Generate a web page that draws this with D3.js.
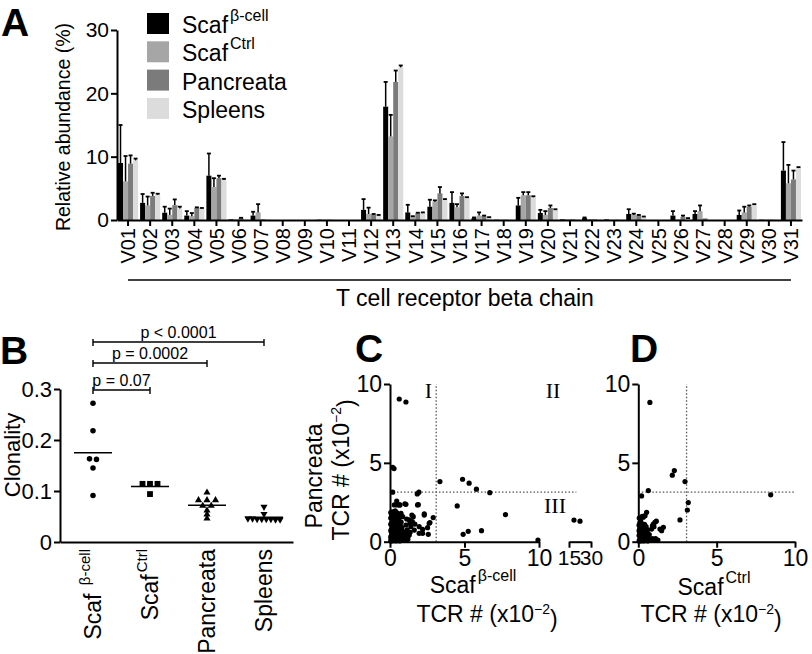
<!DOCTYPE html>
<html>
<head>
<meta charset="utf-8">
<script src="https://cdn.jsdelivr.net/npm/d3@7"></script>
<style>
body { margin: 0; background: #fff; }
svg { font-family: "Liberation Sans", Arial, sans-serif; }
.axis path, .axis line { stroke: #000; stroke-width: 2; }
.axis text { fill: #000; }
.dotted { stroke: #555; stroke-width: 1.3; stroke-dasharray: 1.5,2; fill: none; }
</style>
</head>
<body>
<svg id="fig" width="812" height="654"></svg>
<script>
// ---- panel A data: relative abundance (%) per TCR beta V gene
const vGenes = ["V01","V02","V03","V04","V05","V06","V07","V08","V09","V10",
  "V11","V12","V13","V14","V15","V16","V17","V18","V19","V20",
  "V21","V22","V23","V24","V25","V26","V27","V28","V29","V30","V31"];
const seriesNames = ["scafBeta", "scafCtrl", "pancreata", "spleens"];
const seriesColors = ["#000000", "#a6a6a6", "#7b7b7b", "#dcdcdc"];
const legendLabels = [["Scaf", "β-cell"], ["Scaf", "Ctrl"], ["Pancreata", ""], ["Spleens", ""]];

const scafBetaVals = [9.0,2.7,1.15,0.7,7.0,0.1,0.7,0,0,0.05, 0,1.6,17.9,1.2,2.1,2.7,0.3,0.05,2.3,1.1, 0.1,0.3,0.1,0.95,0,0.7,0.95,0,0.8,0.05,7.8];
const scafBetaSem  = [6.0,1.4,0.95,0.7,3.5,0,0.6,0,0,0, 0,1.7,3.9,1.2,1.1,1.7,0.1,0,1.2,0.5, 0,0.1,0,0.75,0,0.7,0.45,0,0.7,0,4.5];
const scafCtrlVals = [6.1,2.3,0.8,0.6,5.2,0.1,1.2,0,0,0.05, 0,0.95,13.2,0.5,2.9,2.0,0.7,0.05,3.9,0.8, 0.1,0.15,0.05,0.8,0,0.1,1.4,0,1.2,0.05,5.8];
const scafCtrlSem  = [4.0,1.4,1.0,0.5,1.4,0,1.3,0,0,0, 0,1.0,3.4,0.1,0.2,0.5,0.5,0,0.5,0.6, 0,0,0,0.2,0,0,0.9,0,0.9,0,2.9];
const pancVals     = [8.9,3.8,2.35,1.9,6.6,0.3,0.1,0,0,0.05, 0,0.85,21.8,1.05,4.2,3.8,0.6,0.05,3.9,1.9, 0.1,0.1,0.05,0.7,0,0.5,0.25,0,2.1,0.05,6.4];
const pancSem      = [1.3,0.5,0.9,0.1,0.4,0.05,0,0,0,0, 0,0.1,1.8,0.1,1.0,0.4,0.1,0,0.5,0.4, 0,0,0,0.1,0,0.2,0,0,0.2,0,1.4];
const spleenVals   = [9.4,4.0,1.8,1.8,6.3,0.1,0.1,0,0,0.05, 0,0.7,24.1,1.1,3.2,3.5,0.4,0.05,3.6,1.6, 0.1,0.1,0.05,0.5,0,0.25,0,0,2.4,0.05,8.2];
const spleenSem    = [0.3,0.15,0.3,0.1,0.2,0,0,0,0,0, 0,0.1,0.3,0.1,0.1,0.1,0.05,0,0.15,0.1, 0,0,0,0.05,0,0.05,0,0,0.1,0,0.15];
const abundance = [scafBetaVals, scafCtrlVals, pancVals, spleenVals];
const abundanceSem = [scafBetaSem, scafCtrlSem, pancSem, spleenSem];
const yTicksA = [0, 10, 20, 30];

// ---- panel B data: clonality
const groupKeys = ["scafBeta", "scafCtrl", "pancreata", "spleens"];
const groupLabels = [["Scaf ", "β-cell"], ["Scaf", "Ctrl"], ["Pancreata", ""], ["Spleens", ""]];
const clonScafBeta = [0.272, 0.218, 0.163, 0.162, 0.145, 0.091];
const clonScafCtrl = [0.114, 0.114, 0.114, 0.094];
const clonPanc = [0.097, 0.082, 0.082, 0.082, 0.071, 0.071, 0.062, 0.054, 0.046];
const clonSpleen = [0.069, 0.055, 0.046, 0.045, 0.045, 0.044, 0.044, 0.045, 0.046, 0.045];
const clonality = [clonScafBeta, clonScafCtrl, clonPanc, clonSpleen];
const yTicksB = [0, 0.1, 0.2, 0.3];
const comparisons = [
  { a: "scafBeta", b: "scafCtrl", label: "p = 0.07" },
  { a: "scafBeta", b: "pancreata", label: "p = 0.0002" },
  { a: "scafBeta", b: "spleens", label: "p < 0.0001" }
];

// ---- panel C data: Scaf beta-cell vs pancreata TCR frequency (x10^-2)
const cX = [0.05,0.1,0.15,0.2,0.25,0.3,0.35,0.4,0.45,0.5,0.55,0.6,0.65,0.7,0.75,0.8,0.9,1.0,1.1,1.2,
  0.05,0.1,0.15,0.2,0.25,0.3,0.35,0.4,0.45,0.5,0.55,0.6,0.7,0.8,0.9,
  0.05,0.1,0.15,0.2,0.25,0.3,0.35,0.4,0.5,0.6,0.7,0.8,
  0.05,0.1,0.15,0.2,0.3,0.4,0.5,0.6,0.75,
  0.05,0.1,0.2,0.3,0.4,0.5,0.65,
  0.05,0.15,0.25,0.35,0.45,
  0.08,0.12,0.18,0.22,0.28,0.32,0.38,0.42,0.48,0.52,0.58,0.62,0.68,0.72,0.78,0.85,0.95,1.05,1.15,1.25,1.35,
  0.29,0.63,1.0,1.85,0.74,0.85,1.47,1.29,1.5,1.07,1.4,1.63,1.96,1.07,1.29,0.85,2.19,2.63,2.3,
  0.62,1.07,0.18,0.27,0.18,1.94,1.83,3.35,4.87,5.31,5.8,6.7,4.51,7.75,4.91,5.25,6.14,9.93,
  0.45,0.49,0.67,1.07,1.9,2.3,2.9,2.68,2.52,2.19,1.96,2.57,1.56,1.34,1.67,1.12,
  18.4,22.5];
const cY = [0.05,0.1,0.05,0.15,0.08,0.2,0.1,0.05,0.15,0.25,0.1,0.2,0.05,0.3,0.15,0.1,0.2,0.1,0.3,0.15,
  0.3,0.4,0.35,0.5,0.45,0.55,0.4,0.6,0.5,0.65,0.45,0.55,0.6,0.5,0.45,
  0.7,0.8,0.75,0.9,0.85,1.0,0.8,0.95,0.9,0.85,1.0,0.9,
  1.1,1.2,1.15,1.3,1.25,1.35,1.2,1.3,1.25,
  1.5,1.6,1.55,1.7,1.6,1.75,1.55,
  1.85,1.9,1.8,1.95,1.85,
  0.2,0.6,1.0,0.3,0.7,0.35,0.25,1.1,0.75,0.4,1.05,0.35,0.8,0.45,0.7,0.35,0.6,0.5,0.75,0.4,0.6,
  2.33,2.33,2.4,2.33,1.8,1.59,1.69,1.38,1.27,1.06,0.95,0.74,0.95,0.64,0.42,0.32,0.53,1.17,1.69,
  9.05,8.86,4.72,4.64,3.14,3.14,3.03,3.81,3.96,3.71,3.33,3.11,2.27,1.72,0.47,0.66,0.7,0.1,
  2.58,2.33,2.33,2.37,2.35,1.76,1.53,1.21,0.89,0.78,0.53,0.47,1.59,1.17,1.12,1.44,
  1.37,1.3];
const cThreshold = { x: 3.1, y: 3.14 };
const xTicksC1 = [0, 5, 10];
const xTicksC2 = [15, 30];
const yTicksCD = [0, 5, 10];

// ---- panel D data: Scaf ctrl vs pancreata TCR frequency (x10^-2)
const dX = [0.05,0.1,0.15,0.2,0.25,0.3,0.35,0.4,0.45,0.5,0.55,0.6,0.7,0.8,0.9,1.0,1.1,1.25,
  0.05,0.1,0.2,0.3,0.4,0.5,0.6,0.7,0.15,
  0.05,0.1,0.2,0.3,0.4,0.5,0.6,0.25,
  0.05,0.1,0.15,0.28,0.2,0.4,
  0.06,0.15,0.32,0.43,0.53,0.25,
  0.96,1.06,0.85,1.38,1.49,1.6,1.0,1.15,0.9,
  0.74,2.3,2.17,2.98,0.64,0.21,3.19,3.13,2.66,8.45];
const dY = [0.05,0.15,0.05,0.2,0.1,0.25,0.05,0.15,0.3,0.1,0.2,0.05,0.15,0.1,0.2,0.1,0.2,0.1,
  0.4,0.5,0.45,0.55,0.4,0.6,0.5,0.45,0.35,
  0.7,0.85,0.75,0.9,0.8,0.95,0.75,0.65,
  1.05,1.2,1.3,1.12,1.0,1.1,
  1.5,1.4,1.55,1.65,1.86,1.6,
  1.12,1.23,0.8,0.8,0.7,0.91,0.95,1.3,1.0,
  8.83,4.51,4.22,3.81,3.24,2.9,2.48,2.01,1.38,2.97];
const dThreshold = { x: 3.08, y: 3.14 };
const xTicksD = [0, 5, 10];

const svg = d3.select("#fig");

function panelLetter(t, x, y) {
  svg.append("text").attr("x", x).attr("y", y).attr("font-size", 39)
    .attr("font-weight", "bold").text(t);
}

// superscript text helper
function supText(sel, main, sup, supSize) {
  sel.append("tspan").text(main);
  if (sup) sel.append("tspan").attr("font-size", supSize).attr("dy", "-0.75em").attr("dx", 2).text(sup);
}

// ================= PANEL A =================
panelLetter("A", 1, 36);
const gA = svg.append("g");
const xA = d3.scaleBand().domain(vGenes).range([117, 802]);
const xSub = d3.scaleBand().domain(seriesNames).range([1, xA.bandwidth() - 1]);
const yA = d3.scaleLinear().domain([0, 30]).range([220, 30]);

let barRows = [];
seriesNames.forEach((s, si) => vGenes.forEach((v, vi) => barRows.push({
  gene: v, series: s, value: abundance[si][vi], sem: abundanceSem[si][vi], color: seriesColors[si]
})));

gA.selectAll("rect.bar")
  .data(barRows)
  .join("rect")
  .attr("class", "bar")
  .attr("x", d => xA(d.gene) + xSub(d.series))
  .attr("width", xSub.bandwidth())
  .attr("y", d => yA(d.value))
  .attr("height", d => yA(0) - yA(d.value))
  .attr("fill", d => d.color);

let errRows = barRows.filter(d => d.sem > 0);
let cx = d => xA(d.gene) + xSub(d.series) + xSub.bandwidth() / 2;
gA.selectAll("line.err")
  .data(errRows)
  .join("line")
  .attr("class", "err")
  .attr("x1", cx).attr("x2", cx)
  .attr("y1", d => yA(d.value)).attr("y2", d => yA(d.value + d.sem))
  .attr("stroke", "#000").attr("stroke-width", 1.5);
gA.selectAll("line.cap")
  .data(errRows)
  .join("line")
  .attr("class", "cap")
  .attr("x1", d => cx(d) - 2).attr("x2", d => cx(d) + 2)
  .attr("y1", d => yA(d.value + d.sem)).attr("y2", d => yA(d.value + d.sem))
  .attr("stroke", "#000").attr("stroke-width", 1.8);

let yAxisA = gA.append("g")
  .attr("class", "axis")
  .attr("transform", "translate(117,0)")
  .call(d3.axisLeft(yA).tickValues(yTicksA).tickSize(6).tickSizeOuter(0).tickPadding(2));
yAxisA.selectAll("text").attr("font-size", 21);

let xAxisA = gA.append("g")
  .attr("class", "axis")
  .attr("transform", "translate(0,220)")
  .call(d3.axisBottom(xA).tickSize(6).tickSizeOuter(0));
xAxisA.selectAll("text")
  .attr("font-size", 20)
  .attr("text-anchor", "end")
  .attr("transform", "rotate(-90)")
  .attr("x", -8).attr("y", 0).attr("dy", "0.36em");

gA.append("line")
  .attr("x1", xA("V01") + xA.bandwidth() / 2).attr("x2", xA("V31") + xA.bandwidth() / 2)
  .attr("y1", 280).attr("y2", 280)
  .attr("stroke", "#000").attr("stroke-width", 1.5);
gA.append("text")
  .attr("x", 465).attr("y", 306).attr("text-anchor", "middle").attr("font-size", 23)
  .text("T cell receptor beta chain");
gA.append("text")
  .attr("transform", "translate(70,127) rotate(-90)")
  .attr("text-anchor", "middle").attr("font-size", 19.5)
  .text("Relative abundance (%)");

// legend
let legend = gA.selectAll("g.legend")
  .data(legendLabels)
  .join("g")
  .attr("class", "legend")
  .attr("transform", (d, i) => `translate(147,${13 + i * 28.3})`);
legend.append("rect").attr("width", 22).attr("height", 21).attr("fill", (d, i) => seriesColors[i]);
legend.append("text").attr("x", 35).attr("y", 20).attr("font-size", 23)
  .each(function (d) { supText(d3.select(this), d[0], d[1], 16); });

// ================= PANEL B =================
panelLetter("B", 0, 364);
const gB = svg.append("g");
const yB = d3.scaleLinear().domain([0, 0.3]).range([542, 389]);
const xB = d3.scalePoint().domain(groupKeys).range([93, 264]);

let yAxisB = gB.append("g")
  .attr("class", "axis")
  .attr("transform", "translate(60,0)")
  .call(d3.axisLeft(yB).tickValues(yTicksB).tickSize(6).tickSizeOuter(0).tickPadding(2)
    .tickFormat(d => d === 0 ? "0" : d3.format(".1f")(d)));
yAxisB.selectAll("text").attr("font-size", 22);
gB.append("g")
  .attr("class", "axis")
  .attr("transform", "translate(0,542)")
  .call(d3.axisBottom(d3.scaleLinear().range([60, 293])).ticks(0).tickSizeOuter(0));

gB.append("text")
  .attr("transform", "translate(20,455) rotate(-90)")
  .attr("text-anchor", "middle").attr("font-size", 22)
  .text("Clonality");

// x labels (rotated)
gB.selectAll("text.glabel")
  .data(groupKeys)
  .join("text")
  .attr("class", "glabel")
  .attr("transform", d => `translate(${xB(d)},549) rotate(-90)`)
  .attr("text-anchor", "end").attr("dy", "0.36em").attr("font-size", 23)
  .each(function (d, i) { supText(d3.select(this), groupLabels[i][0], groupLabels[i][1], 15); });

// spread points that share a row
function spreadRow(values, spacing, tol) {
  let sorted = values.map(v => v).sort((a, b) => b - a);
  let rows = [];
  sorted.forEach(v => {
    let r = rows.find(r => Math.abs(r[0] - v) <= tol);
    if (r) r.push(v); else rows.push([v]);
  });
  let out = [];
  rows.forEach(r => r.forEach((v, k) => out.push({ value: v, dx: (k - (r.length - 1) / 2) * spacing })));
  return out;
}
const groupSpacing = [7, 7.5, 8.5, 4.6];
const groupSymbols = [
  d3.symbol().type(d3.symbolCircle).size(24),
  d3.symbol().type(d3.symbolSquare).size(34),
  d3.symbol().type(d3.symbolTriangle).size(22),
  d3.symbol().type(d3.symbolTriangle).size(22)
];
groupKeys.forEach((g, gi) => {
  let pts = spreadRow(clonality[gi], groupSpacing[gi], 0.004);
  gB.selectAll("path.pt" + gi)
    .data(pts)
    .join("path")
    .attr("class", "pt" + gi)
    .attr("d", groupSymbols[gi])
    .attr("transform", d => `translate(${xB(g) + d.dx},${yB(d.value)})` + (gi === 3 ? " rotate(180)" : ""))
    .attr("fill", "#000");
  let m = d3.mean(clonality[gi]);
  gB.append("line")
    .attr("x1", xB(g) - 19).attr("x2", xB(g) + 19)
    .attr("y1", yB(m)).attr("y2", yB(m))
    .attr("stroke", "#000").attr("stroke-width", 1.5);
});

// significance brackets
const bracketY = [390, 363, 342];
comparisons.forEach((c, i) => {
  let x1 = xB(c.a), x2 = xB(c.b), y = bracketY[i];
  let b = gB.append("g").attr("stroke", "#000").attr("stroke-width", 1.4);
  b.append("line").attr("x1", x1).attr("x2", x2).attr("y1", y).attr("y2", y);
  b.append("line").attr("x1", x1).attr("x2", x1).attr("y1", y - 3).attr("y2", y + 4);
  b.append("line").attr("x1", x2).attr("x2", x2).attr("y1", y - 3).attr("y2", y + 4);
  gB.append("text")
    .attr("x", (x1 + x2) / 2).attr("y", y - 4)
    .attr("text-anchor", "middle").attr("font-size", 16)
    .text(c.label);
});

// ================= PANEL C =================
panelLetter("C", 355, 362);
const gC = svg.append("g");
const xC1 = d3.scaleLinear().domain([0, 10]).range([390, 539]);
const xC2 = d3.scaleLinear().domain([15, 30]).range([569, 591]);
const yC = d3.scaleLinear().domain([0, 10]).range([541.7, 384]);
let xCpos = v => v > 10 ? xC2(v) : xC1(v);

gC.append("line").attr("class", "dotted")
  .attr("x1", xC1(cThreshold.x)).attr("x2", xC1(cThreshold.x))
  .attr("y1", yC(0)).attr("y2", yC(10));
gC.append("line").attr("class", "dotted")
  .attr("x1", xC1(0)).attr("x2", xC2(20))
  .attr("y1", yC(cThreshold.y)).attr("y2", yC(cThreshold.y));

let cPts = cX.map((x, i) => ({ x: x, y: cY[i] }));
gC.selectAll("circle")
  .data(cPts)
  .join("circle")
  .attr("cx", d => xCpos(d.x))
  .attr("cy", d => yC(d.y))
  .attr("r", 2.6)
  .attr("fill", "#000");

gC.append("g").attr("class", "axis")
  .attr("transform", "translate(390,0)")
  .call(d3.axisLeft(yC).tickValues(yTicksCD).tickSize(6).tickSizeOuter(0).tickPadding(2));
gC.append("g").attr("class", "axis")
  .attr("transform", "translate(0,541.7)")
  .call(d3.axisBottom(xC1).tickValues(xTicksC1).tickSize(6).tickSizeOuter(0).tickPadding(2));
let xAxisC2 = gC.append("g").attr("class", "axis")
  .attr("transform", "translate(0,541.7)")
  .call(d3.axisBottom(xC2).tickValues(xTicksC2).tickSize(6).tickSizeOuter(0).tickPadding(2));
gC.selectAll(".axis text").attr("font-size", 23);
xAxisC2.selectAll("text").attr("font-size", 21);

const serif = '"Liberation Serif", "Times New Roman", serif';
gC.append("text").attr("x", xC1(cThreshold.x) - 4).attr("y", 398).attr("text-anchor", "end")
  .attr("font-family", serif).attr("font-size", 22).text("I");
gC.append("text").attr("x", 553).attr("y", 398).attr("text-anchor", "middle")
  .attr("font-family", serif).attr("font-size", 22).text("II");
gC.append("text").attr("x", 555).attr("y", 513).attr("text-anchor", "middle")
  .attr("font-family", serif).attr("font-size", 22).text("III");

function tcrLabel(sel) {
  sel.append("tspan").text("TCR # (x10");
  sel.append("tspan").attr("font-size", 14).attr("dy", "-0.6em").text("−2");
  sel.append("tspan").attr("dy", "0.6em").text(")");
}
gC.append("text").attr("transform", "translate(322,476) rotate(-90)")
  .attr("text-anchor", "middle").attr("font-size", 23).text("Pancreata");
gC.append("text").attr("transform", "translate(349,470) rotate(-90)")
  .attr("text-anchor", "middle").attr("font-size", 23).call(tcrLabel);
gC.append("text").attr("x", 473).attr("y", 593).attr("text-anchor", "middle").attr("font-size", 23)
  .each(function () { supText(d3.select(this), "Scaf", "β-cell", 16); });
gC.append("text").attr("x", 487).attr("y", 622).attr("text-anchor", "middle").attr("font-size", 23)
  .call(tcrLabel);

// ================= PANEL D =================
panelLetter("D", 630, 362);
const gD = svg.append("g");
const xD = d3.scaleLinear().domain([0, 10]).range([638.3, 795]);
const yD = d3.scaleLinear().domain([0, 10]).range([541.7, 384]);

gD.append("line").attr("class", "dotted")
  .attr("x1", xD(dThreshold.x)).attr("x2", xD(dThreshold.x))
  .attr("y1", yD(0)).attr("y2", yD(10));
gD.append("line").attr("class", "dotted")
  .attr("x1", xD(0)).attr("x2", xD(10))
  .attr("y1", yD(dThreshold.y)).attr("y2", yD(dThreshold.y));

let dPts = dX.map((x, i) => ({ x: x, y: dY[i] }));
gD.selectAll("circle")
  .data(dPts)
  .join("circle")
  .attr("cx", d => xD(d.x))
  .attr("cy", d => yD(d.y))
  .attr("r", 2.6)
  .attr("fill", "#000");

gD.append("g").attr("class", "axis")
  .attr("transform", "translate(638.3,0)")
  .call(d3.axisLeft(yD).tickValues(yTicksCD).tickSize(6).tickSizeOuter(0).tickPadding(2));
gD.append("g").attr("class", "axis")
  .attr("transform", "translate(0,541.7)")
  .call(d3.axisBottom(xD).tickValues(xTicksD).tickSize(6).tickSizeOuter(0).tickPadding(2));
gD.selectAll(".axis text").attr("font-size", 23);

gD.append("text").attr("x", 714).attr("y", 595).attr("text-anchor", "middle").attr("font-size", 23)
  .each(function () { supText(d3.select(this), "Scaf", "Ctrl", 16); });
gD.append("text").attr("x", 711).attr("y", 622).attr("text-anchor", "middle").attr("font-size", 23)
  .call(tcrLabel);
</script>
</body>
</html>
